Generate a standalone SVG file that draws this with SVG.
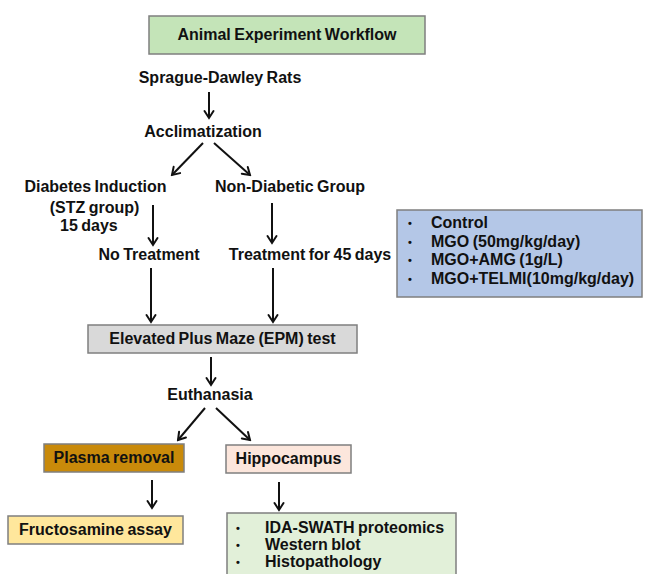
<svg xmlns="http://www.w3.org/2000/svg" width="645" height="574" viewBox="0 0 645 574">
<defs>
<marker id="ah" viewBox="-10 -7 12 14" refX="0" refY="0" markerWidth="12" markerHeight="14" markerUnits="userSpaceOnUse" orient="auto">
<path d="M-7,-4.5 L0,0 L-7,4.5" fill="none" stroke="#111" stroke-width="2" stroke-linecap="round" stroke-linejoin="miter"/>
</marker>
<style>
text{font-family:"Liberation Sans",Arial,sans-serif;font-weight:bold;font-size:16px;fill:#111;word-spacing:-1px}
.c{text-anchor:middle}
.b{font-size:11px;text-anchor:middle}
.box{stroke:#7f7f7f;stroke-width:1.5}
.ln{stroke:#111;stroke-width:2;fill:none;marker-end:url(#ah)}
</style>
</defs>
<rect width="645" height="574" fill="#fff"/>
<g id="connectors">
<line class="ln" x1="209" y1="92" x2="209" y2="118"/>
<line class="ln" x1="203" y1="143" x2="172" y2="175"/>
<line class="ln" x1="214" y1="143" x2="250" y2="175"/>
<line class="ln" x1="153" y1="205" x2="153" y2="245"/>
<line class="ln" x1="272" y1="203" x2="272" y2="243"/>
<line class="ln" x1="151" y1="268" x2="151" y2="322"/>
<line class="ln" x1="273" y1="268" x2="273" y2="322"/>
<line class="ln" x1="211" y1="357" x2="211" y2="385"/>
<line class="ln" x1="205" y1="408" x2="178" y2="440"/>
<line class="ln" x1="216" y1="408" x2="250" y2="440"/>
<line class="ln" x1="152" y1="480" x2="152" y2="508"/>
<line class="ln" x1="279" y1="482" x2="279" y2="510"/>
</g>
<g id="title">
<rect class="box" x="149" y="16" width="276" height="38" fill="#c4e4b8"/>
<text class="c" x="287" y="40">Animal Experiment Workflow</text>
</g>
<g id="rats"><text class="c" x="220" y="83">Sprague-Dawley Rats</text></g>
<g id="acclim"><text class="c" x="203" y="137">Acclimatization</text></g>
<g id="diabetes">
<text class="c" x="95.5" y="192">Diabetes Induction</text>
<text class="c" x="94.5" y="213">(STZ group)</text>
<text x="60" y="231">15 days</text>
</g>
<g id="nondiabetic"><text class="c" x="290" y="192">Non-Diabetic Group</text></g>
<g id="notreat"><text class="c" x="149" y="260">No Treatment</text></g>
<g id="treat45"><text class="c" x="310" y="260">Treatment for 45 days</text></g>
<g id="groups">
<rect class="box" x="397" y="210" width="245" height="87" fill="#b4c7e7"/>
<text class="b" x="410" y="227">•</text><text x="431" y="228">Control</text>
<text class="b" x="410" y="246">•</text><text x="431" y="247">MGO (50mg/kg/day)</text>
<text class="b" x="410" y="264">•</text><text x="431" y="265">MGO+AMG (1g/L)</text>
<text class="b" x="410" y="283">•</text><text x="431" y="284">MGO+TELMI(10mg/kg/day)</text>
</g>
<g id="epm">
<rect class="box" x="88" y="325" width="269" height="28" fill="#d9d9d9"/>
<text class="c" x="222.5" y="344">Elevated Plus Maze (EPM) test</text>
</g>
<g id="euthanasia"><text class="c" x="210" y="400">Euthanasia</text></g>
<g id="plasma">
<rect class="box" x="44" y="444" width="140" height="28" fill="#c98a0a"/>
<text class="c" x="114" y="463">Plasma removal</text>
</g>
<g id="hippocampus">
<rect class="box" x="226" y="445" width="125" height="28" fill="#fce6dc"/>
<text class="c" x="288.5" y="464">Hippocampus</text>
</g>
<g id="fructosamine">
<rect class="box" x="8" y="516" width="175" height="28" fill="#ffe79c"/>
<text class="c" x="95.5" y="535">Fructosamine assay</text>
</g>
<g id="analyses">
<rect class="box" x="227" y="513" width="229" height="70" fill="#e2f0d9"/>
<text class="b" x="238" y="532">•</text><text x="265" y="533">IDA-SWATH proteomics</text>
<text class="b" x="238" y="549">•</text><text x="265" y="550">Western blot</text>
<text class="b" x="238" y="566">•</text><text x="265" y="567">Histopathology</text>
</g>
</svg>
